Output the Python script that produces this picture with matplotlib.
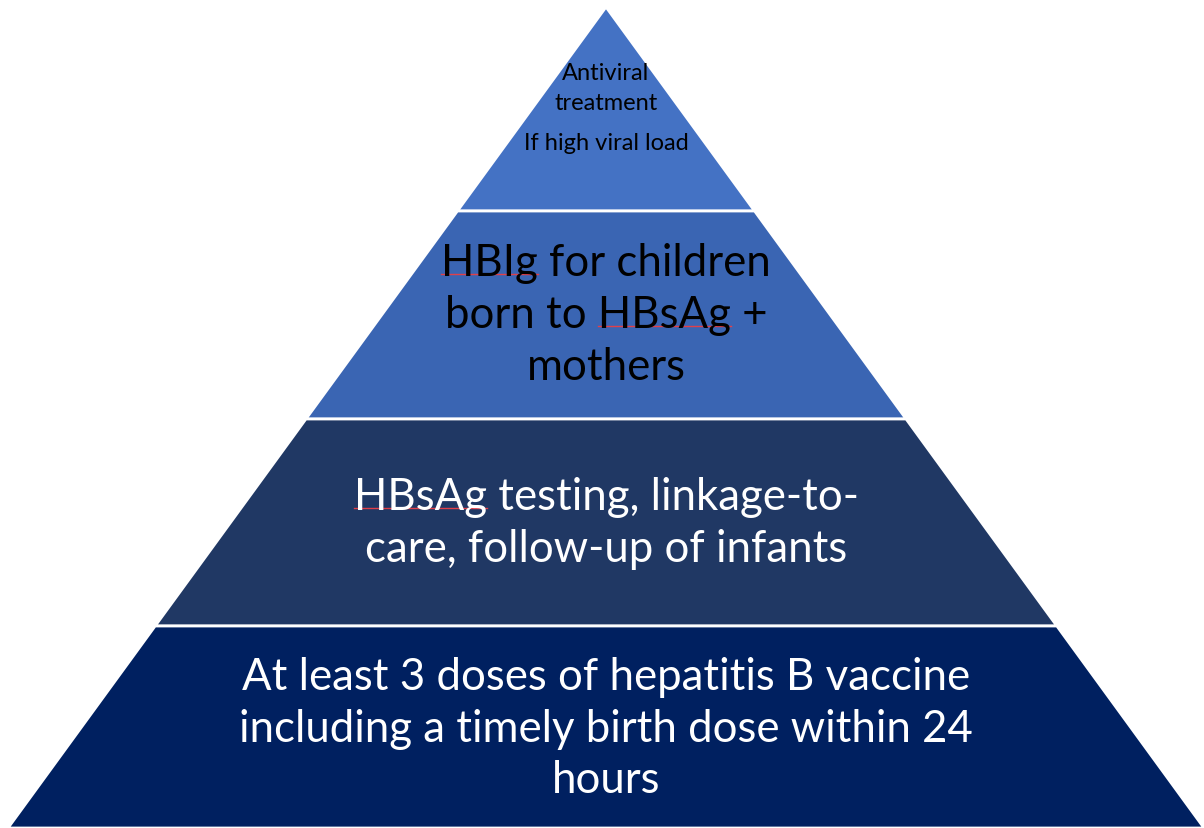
import matplotlib.pyplot as plt
from matplotlib.patches import Polygon

# pyramid tiers, top to bottom
tier_labels = [
    "Antiviral\ntreatment\nIf high viral load",
    "HBIg for children\nborn to HBsAg +\nmothers",
    "HBsAg testing, linkage-to-\ncare, follow-up of infants",
    "At least 3 doses of hepatitis B vaccine\nincluding a timely birth dose within 24\nhours",
]
tier_colors = ["#4472C4", "#3A65B3", "#203864", "#002060"]
text_colors = ["black", "black", "white", "white"]
font_sizes = [17, 31.5, 31.5, 31.5]
# words carrying the red spell-check underline: (tier, line, word)
flagged = [(1, 0, "HBIg"), (1, 1, "HBsAg"), (2, 0, "HBsAg")]

# pixel geometry of the slide
W, H = 1204, 829
apex_x, apex_y = 606, 8
half_base = 598
edges = [8, 212, 420, 627, 829]

plt.rcParams['font.family'] = ['Lato', 'DejaVu Sans']

fig = plt.figure(figsize=(W / 100, H / 100), dpi=100)
ax = fig.add_axes([0, 0, 1, 1])
ax.set_xlim(0, W)
ax.set_ylim(H, 0)
ax.axis('off')


def half_width(y):
    return half_base * (y - apex_y) / (H - apex_y)


for i, color in enumerate(tier_colors):
    y0, y1 = edges[i], edges[i + 1]
    pts = [(apex_x - half_width(y0), y0), (apex_x + half_width(y0), y0),
           (apex_x + half_width(y1), y1), (apex_x - half_width(y1), y1)]
    ax.add_patch(Polygon(pts, closed=True, facecolor=color,
                         edgecolor='white', linewidth=2.0, joinstyle='miter'))

# text positions (line centres)
line_y = [
    [73, 103, 143],
    [263, 315, 367],
    [497, 549],
    [678, 729, 781],
]

fig.canvas.draw()
renderer = fig.canvas.get_renderer()
texts = {}
for i, label in enumerate(tier_labels):
    for j, line in enumerate(label.split("\n")):
        t = ax.text(apex_x, line_y[i][j], line, ha='center', va='center',
                    fontsize=font_sizes[i], color=text_colors[i])
        texts[(i, j)] = t

fig.canvas.draw()
inv = ax.transData.inverted()
for (i, j, word) in flagged:
    t = texts[(i, j)]
    line = t.get_text()
    bb = t.get_window_extent(renderer)
    start = line.index(word)
    tmp = ax.text(0, 0, line[:start], fontsize=font_sizes[i])
    pre = tmp.get_window_extent(renderer).width if start else 0
    tmp.remove()
    tmp = ax.text(0, 0, word, fontsize=font_sizes[i])
    ww = tmp.get_window_extent(renderer).width
    tmp.remove()
    x0 = bb.x0 + pre
    (dx0, dy), (dx1, _) = inv.transform([(x0, bb.y0 + bb.height * 0.2),
                                        (x0 + ww, bb.y0)])
    ax.plot([dx0, dx1], [dy, dy], color='#e0404a', linewidth=1.0)

fig.savefig("out.png", dpi=100)
